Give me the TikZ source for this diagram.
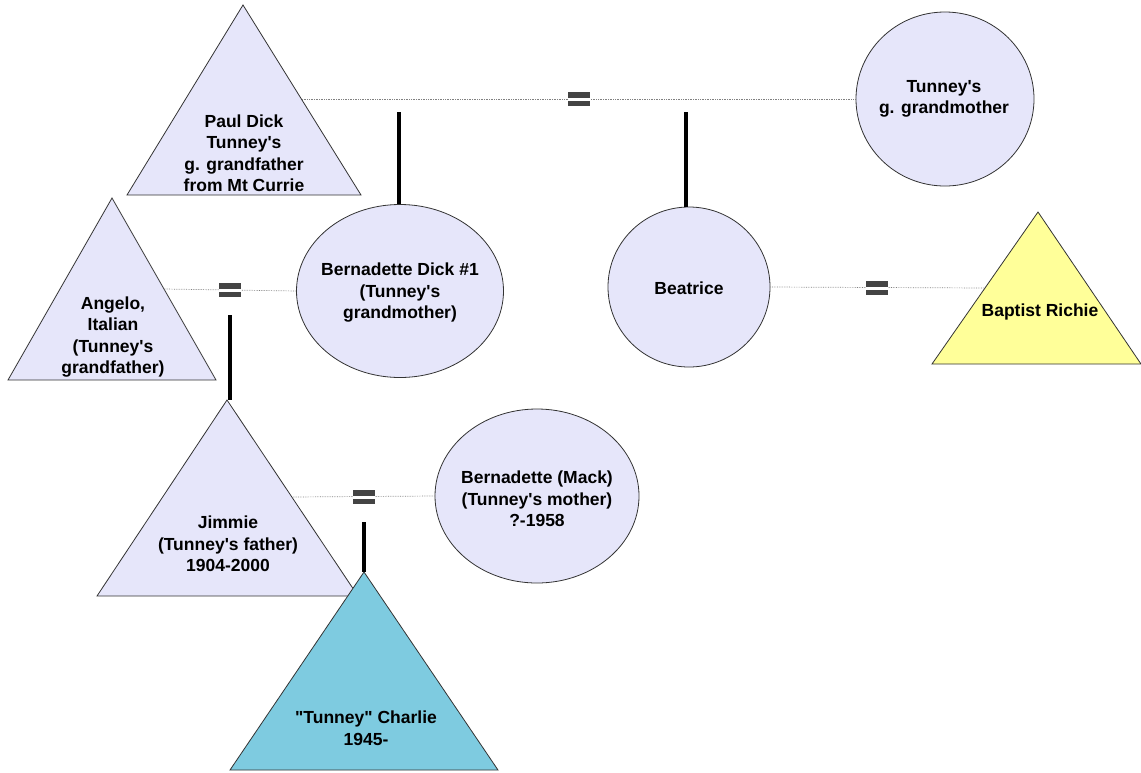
\documentclass[tikz,border=0pt]{standalone}
\usepackage{fontspec}
\newfontfamily\labfont{Liberation Sans}
\usetikzlibrary{shapes.geometric,calc}
\definecolor{lav}{HTML}{E6E6FA}
\definecolor{yel}{HTML}{FFFF99}
\definecolor{blu}{HTML}{7ECBE0}
\definecolor{edgegray}{HTML}{333333}
\definecolor{eqgray}{HTML}{444444}
\begin{document}
\begin{tikzpicture}[x=1pt,y=-1pt,
  person/.style={fill=lav, draw=edgegray, line width=0.8pt},
  lbl/.style={font=\labfont\fontsize{17.5}{21.5}\selectfont\bfseries, align=center, text=black, inner sep=0pt},
  circ/.style={ellipse, person, inner sep=0pt},
  marr/.style={draw=gray, line width=0.7pt, densely dotted},
  desc/.style={draw=black, line width=3.4pt},
  eqsign/.style={minimum width=22pt, minimum height=14pt, inner sep=0pt, fill=white,
    path picture={
      \fill[eqgray] (path picture bounding box.north west) rectangle ($(path picture bounding box.north east)+(0pt,-5.5pt)$);
      \fill[eqgray] (path picture bounding box.south west) rectangle ($(path picture bounding box.south east)+(0pt,5.5pt)$);
    }}
]
\useasboundingbox (0,0) rectangle (1141,772);

% ---------- triangles ----------
\draw[person] (243,5) -- (361,195) -- (127,195) -- cycle;
\node[lbl] (pd) at (244,153) {Paul Dick\\Tunney's\\g. grandfather\\from Mt Currie};

\draw[person] (112,198) -- (216,380) -- (8,380) -- cycle;
\node[lbl] (an) at (113,337) {Angelo,\\Italian\\(Tunney's\\grandfather)};

\draw[person, fill=yel] (1038,212) -- (1141,364) -- (932,364) -- cycle;
\node[lbl] (br) at (1040,312) {Baptist Richie};

\draw[person] (227,400) -- (358,596) -- (97,596) -- cycle;
\node[lbl] (jm) at (228,544) {Jimmie\\(Tunney's father)\\1904-2000};

\draw[person, fill=blu] (364,572) -- (498,770) -- (230,770) -- cycle;
\node[lbl] (tc) at (366,728) {"Tunney" Charlie\\1945-};

% ---------- circles / ellipses ----------
\node[circ, minimum width=178pt, minimum height=174pt] (gg) at (945,99) {};
\node[lbl] (ggt) at (944,99) {Tunney's\\g. grandmother};
\node[circ, minimum width=207pt, minimum height=173pt] (bd) at (400,291) {};
\node[lbl] (bdt) at (400,293) {Bernadette Dick \#1\\(Tunney's\\grandmother)};
\node[circ, minimum width=162pt, minimum height=160pt] (be) at (689,287) {};
\node[lbl] (bet) at (689,288) {Beatrice};
\node[circ, minimum width=204pt, minimum height=174pt] (bm) at (537,496) {};
\node[lbl] (bmt) at (537,499) {Bernadette (Mack)\\(Tunney's mother)\\?-1958};

% ---------- anchor points on triangle edges ----------
\coordinate (pdR) at (302,99);
\coordinate (anR) at (164,289);
\coordinate (brL) at (985,288);
\coordinate (jmR) at (293,497);
\coordinate (jmTop) at (227,400);
\coordinate (tcTop) at (364,572);
\coordinate (c1) at (399,112);
\coordinate (c2) at (686,112);
\coordinate (c3) at (230,315);
\coordinate (c4) at (364,522);

% ---------- marriage lines ----------
\draw[marr] (pdR) -- (gg.west);
\draw[marr] (anR) -- (bd.west);
\draw[marr] (be.east) -- (brL);
\draw[marr] (jmR) -- (bm.west);

\node[eqsign] (e1) at (579,99) {};
\node[eqsign] (e2) at (230,290) {};
\node[eqsign] (e3) at (877,288) {};
\node[eqsign] (e4) at (364,497) {};

% ---------- descent lines ----------
\draw[desc] (c1) -- (c1 |- bd.north);
\draw[desc] (c2) -- (c2 |- be.north);
\draw[desc] (c3) -- (c3 |- jmTop);
\draw[desc] (c4) -- (tcTop);
\end{tikzpicture}
\end{document}
